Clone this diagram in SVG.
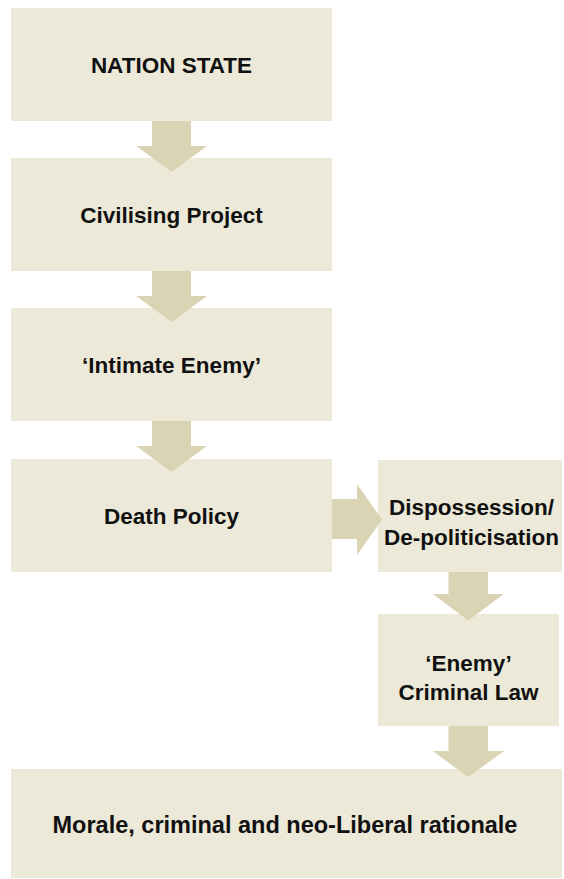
<svg xmlns="http://www.w3.org/2000/svg" width="564" height="879" viewBox="0 0 564 879">
<style>
.box{fill:#EDE9D8;}
.arr{fill:#DAD4B4;}
.t{font-family:"Liberation Sans",Arial,sans-serif;font-weight:bold;font-size:22.5px;fill:#111;text-anchor:middle;}
</style>
<rect width="564" height="879" fill="#ffffff"/>
<g id="node-nation-state"><rect class="box" x="11" y="8" width="321" height="113"/><text class="t" x="171.5" y="72.5">NATION STATE</text></g>
<g id="node-civilising-project"><rect class="box" x="11" y="158" width="321" height="113"/><text class="t" x="171.5" y="222.5">Civilising Project</text></g>
<g id="node-intimate-enemy"><rect class="box" x="11" y="308" width="321" height="113"/><text class="t" x="171.5" y="372.5">‘Intimate Enemy’</text></g>
<g id="node-death-policy"><rect class="box" x="11" y="459" width="321" height="113"/><text class="t" x="171.5" y="524">Death Policy</text></g>
<g id="node-dispossession"><rect class="box" x="378" y="460" width="184" height="112"/><text class="t" x="471.5" y="515">Dispossession/</text><text class="t" x="471.5" y="545">De-politicisation</text></g>
<g id="node-enemy-criminal-law"><rect class="box" x="378" y="614" width="181" height="112"/><text class="t" x="468.5" y="670.5">‘Enemy’</text><text class="t" x="468.5" y="700">Criminal Law</text></g>
<g id="node-rationale"><rect class="box" x="11" y="769" width="551" height="109"/><text class="t" x="285" y="833" style="font-size:23.5px">Morale, criminal and neo-Liberal rationale</text></g>
<g id="connectors">
<polygon class="arr" points="152,121 191,121 191,146 207,146 171.5,172 136,146 152,146"/>
<polygon class="arr" points="152,271 191,271 191,296 207,296 171.5,322 136,296 152,296"/>
<polygon class="arr" points="152,421 191,421 191,446 207,446 171.5,472 136,446 152,446"/>
<polygon class="arr" points="332,499 357,499 357,484 382,519.5 357,555 357,539 332,539"/>
<polygon class="arr" points="448.5,572 488,572 488,594 504,594 468.3,620.5 432.7,594 448.5,594"/>
<polygon class="arr" points="448.5,726 488,726 488,751 504,751 468.3,777 432.7,751 448.5,751"/>
</g>
</svg>
